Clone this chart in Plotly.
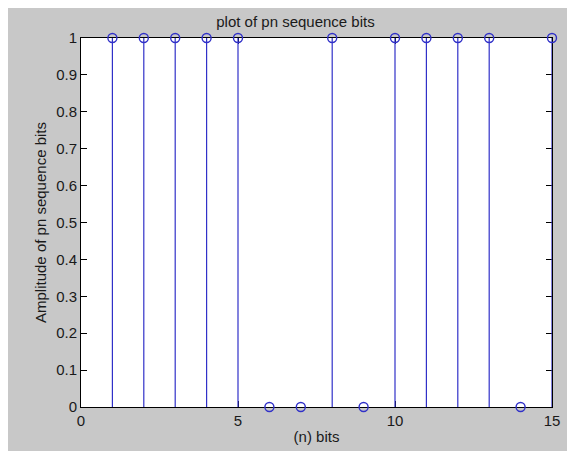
import plotly.graph_objects as go

# pn sequence bits, n = 1..15
n_bits = list(range(1, 16))
pn_bits = [1, 1, 1, 1, 1, 0, 0, 1, 0, 1, 1, 1, 1, 0, 1]

x_ticks = [0, 5, 10, 15]
y_ticks = [0, 0.1, 0.2, 0.3, 0.4, 0.5, 0.6, 0.7, 0.8, 0.9, 1]
y_tick_text = ["0", "0.1", "0.2", "0.3", "0.4", "0.5", "0.6", "0.7", "0.8", "0.9", "1"]

STEM = "#3030c8"
FONT = "Liberation Sans, Arial, sans-serif"
TXT = dict(family=FONT, size=15, color="#1a1a1a")

fig = go.Figure()
# stem plot: open circle markers with a drop line to zero (error bar below each point)
fig.add_trace(go.Scatter(
    x=n_bits,
    y=pn_bits,
    mode="markers",
    marker=dict(symbol="circle-open", size=9, color=STEM, line=dict(width=1.4, color=STEM)),
    error_y=dict(type="data", symmetric=False, array=[0] * len(pn_bits), arrayminus=pn_bits,
                 width=0, thickness=1.2, color=STEM),
    cliponaxis=False,
    showlegend=False,
))

axis_common = dict(
    showline=True, linecolor="black", linewidth=1, mirror="allticks",
    ticks="inside", ticklen=6, tickcolor="black", tickwidth=1,
    showgrid=False, zeroline=False, layer="below traces",
    tickfont=TXT,
)

fig.update_xaxes(range=[0, 15], tickvals=x_ticks, ticktext=[str(t) for t in x_ticks],
                 title=dict(text="(n) bits", font=TXT, standoff=3),
                 **axis_common)
fig.update_yaxes(range=[0, 1], tickvals=y_ticks, ticktext=y_tick_text,
                 title=dict(text="Amplitude of pn sequence bits", font=TXT, standoff=5),
                 **axis_common)

fig.update_layout(
    width=575, height=451,
    margin=dict(l=73, r=31, t=30, b=52),
    paper_bgcolor="#c8c8c8",
    plot_bgcolor="white",
    title=dict(text="plot of pn sequence bits", x=0.5, xanchor="center", y=0.970, yanchor="middle",
               font=TXT),
)

fig.write_html("out.html")
